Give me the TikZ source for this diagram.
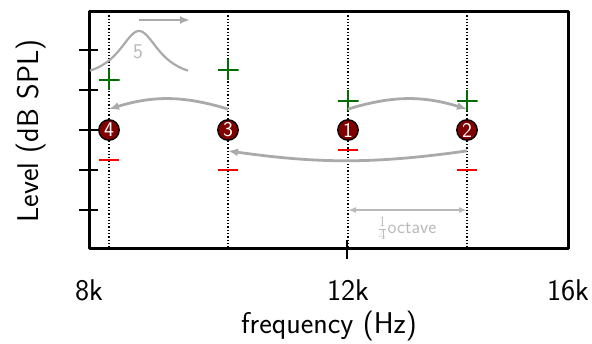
\documentclass[tikz,border=0pt]{standalone}
\usetikzlibrary{arrows.meta,calc}
\definecolor{darkred}{RGB}{128,0,0}
\definecolor{plusgreen}{RGB}{0,110,0}
\definecolor{minusred}{RGB}{250,0,0}
\definecolor{arrowgray}{RGB}{170,170,170}
\definecolor{lightgray2}{RGB}{185,185,185}
\begin{document}
\begin{tikzpicture}[x=1pt,y=-1pt,font=\sffamily,
  frame/.style={line width=3pt,line join=round},
  axtick/.style={line width=2.4pt},
  guide/.style={dotted,line width=1.3pt},
  axlabel/.style={font=\sffamily\fontsize{30}{32}\selectfont,inner sep=0pt},
  num/.style={circle,draw=black,line width=1.3pt,fill=darkred,text=white,
    minimum size=20.5pt,inner sep=0pt,font=\sffamily\fontsize{21}{21}\selectfont},
  plusmark/.style={minimum size=21pt,inner sep=0pt,
    path picture={\draw[plusgreen,line width=2.7pt]
      (path picture bounding box.north) -- (path picture bounding box.south)
      (path picture bounding box.west) -- (path picture bounding box.east);}},
  minusmark/.style={minimum width=20pt,minimum height=4pt,inner sep=0pt,
    path picture={\draw[minusred,line width=2.4pt]
      (path picture bounding box.west) -- (path picture bounding box.east);}},
  move/.style={draw=arrowgray,line width=2.8pt,-{Latex[length=10pt,width=8pt]}},
  span/.style={draw=lightgray2,line width=1.8pt,{Latex[length=8pt,width=6pt]}-{Latex[length=8pt,width=6pt]}},
  graylabel/.style={text=lightgray2,inner sep=0pt}
]
\useasboundingbox (0,0) rectangle (592,344);

% frame and ticks
\draw[frame] (89,12) rectangle (568,249);
\foreach \yy in {50,90,130,170,210}
  \draw[axtick] (79,\yy) -- (98,\yy);
\draw[axtick] (347,240) -- (347,259);

% dotted guides at the four tone frequencies
\foreach \xx in {109,228,348,467}
  \draw[guide] (\xx,12) -- (\xx,249);

% axis labels
\node[axlabel] (x8) at (89,290) {8k};
\node[axlabel] (x12) at (348,290) {12k};
\node[axlabel] (x16) at (568,290) {16k};
\node[axlabel] (xlab) at (329,326) {frequency (Hz)};
\node[axlabel,rotate=90] (ylab) at (31,131) {Level (dB SPL)};

% numbered tones
\node[num] (n4) at (109,130) {4};
\node[num] (n3) at (228,130) {3};
\node[num] (n1) at (348,130) {1};
\node[num] (n2) at (467,130) {2};

% level ranges
\node[plusmark] (p4) at (109,80) {};
\node[plusmark] (p3) at (228,70) {};
\node[plusmark] (p1) at (348,101) {};
\node[plusmark] (p2) at (467,101) {};
\node[minusmark] (m4) at (109,160) {};
\node[minusmark] (m3) at (228,170) {};
\node[minusmark] (m1) at (348,150) {};
\node[minusmark] (m2) at (467,170) {};

% order of presentation
\draw[move] ([yshift=10pt]n1.north) to[bend left=17] ([yshift=10pt]n2.north);
\draw[move] ([yshift=-10pt]n2.south) to[bend left=8] ([yshift=-10pt]n3.south);
\draw[move] ([yshift=10pt]n3.north) to[bend right=17] ([yshift=10pt]n4.north);

% filter shape and its sweep
\draw[arrowgray,line width=2.2pt] plot[domain=90:188,samples=90,smooth]
  (\x,{81-50/(1+((\x-139)/25)^2)});
\node[graylabel,font=\sffamily\fontsize{21}{21}\selectfont] (five) at (138,52) {5};
\coordinate (s0) at (139,20);
\coordinate (s1) at (190,20);
\draw[move,line width=2.4pt] (s0) -- (s1);

% quarter-octave spacing
\coordinate (o1) at (348,210);
\coordinate (o2) at (467,210);
\draw[span] (o1) -- (o2);
\node[graylabel,font=\sffamily\fontsize{19}{19}\selectfont] (oct) at (407,228) {$\frac{1}{4}$\kern0.5pt octave};
\end{tikzpicture}
\end{document}
